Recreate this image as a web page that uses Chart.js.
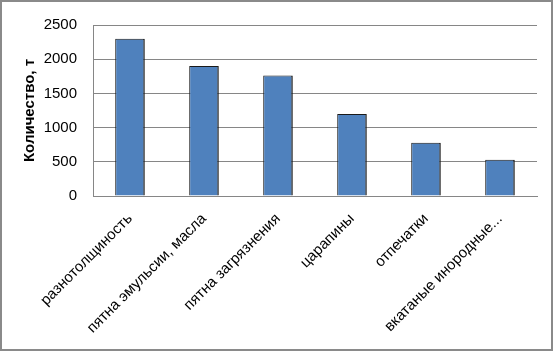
<!DOCTYPE html>
<html>
<head>
<meta charset="utf-8">
<script src="https://cdn.jsdelivr.net/npm/chart.js@4.4.1/dist/chart.umd.min.js"></script>
<style>
  html, body { margin: 0; padding: 0; background: #fff; }
  #wrap { position: relative; width: 553px; height: 351px; }
  #frame { position: absolute; left: 0; top: 0; width: 549px; height: 347px; border: 2px solid #8a8a8a; pointer-events: none; }
</style>
</head>
<body>
<div id="wrap">
  <canvas id="chart" width="553" height="351"></canvas>
  <div id="frame"></div>
</div>
<script>
// data
const categories = ['разнотолщиность', 'пятна эмульсии, масла', 'пятна загрязнения', 'царапины', 'отпечатки', 'вкатаные инородные...'];
const amounts = [2300, 1900, 1760, 1200, 780, 530];
const yTicks = [0, 500, 1000, 1500, 2000, 2500];
const yTitle = 'Количество, т';

const FONT = 'Liberation Sans, Arial, sans-serif';
const GRID = '#868686';

const ctx = document.getElementById('chart').getContext('2d');
new Chart(ctx, {
  type: 'bar',
  data: {
    labels: categories,
    datasets: [{
      data: amounts,
      backgroundColor: '#4f81bd',
      borderColor: '#1a1a1a',
      borderWidth: { top: 1, left: 1, right: 1.5, bottom: 0 },
      borderSkipped: 'bottom',
      categoryPercentage: 1,
      barPercentage: 0.4
    }]
  },
  options: {
    responsive: false,
    animation: false,
    events: [],
    layout: { padding: { left: 2, right: 16, top: 17, bottom: 0 } },
    plugins: { legend: { display: false }, tooltip: { enabled: false } },
    scales: {
      x: {
        grid: { display: true, drawOnChartArea: false, drawTicks: false },
        border: { display: true, color: GRID, width: 1 },
        ticks: {
          color: '#000',
          font: { family: FONT, size: 15 },
          minRotation: 45,
          maxRotation: 45,
          padding: 14,
          autoSkip: false
        },
        afterFit: (scale) => { scale.height = 155; }
      },
      y: {
        min: yTicks[0],
        max: yTicks[yTicks.length - 1],
        afterBuildTicks: (scale) => { scale.ticks = yTicks.map(v => ({ value: v })); },
        grid: { color: GRID, lineWidth: 1, drawTicks: false },
        border: { display: true, color: GRID, width: 1 },
        ticks: {
          color: '#000',
          font: { family: FONT, size: 15 },
          padding: 16,
          callback: (v) => String(v)
        },
        title: {
          display: true,
          text: yTitle,
          color: '#000',
          font: { family: FONT, size: 15, weight: 'bold' },
          padding: { top: 19, bottom: 0 }
        },
        afterFit: (scale) => { scale.width = 91; }
      }
    }
  }
});
</script>
</body>
</html>
